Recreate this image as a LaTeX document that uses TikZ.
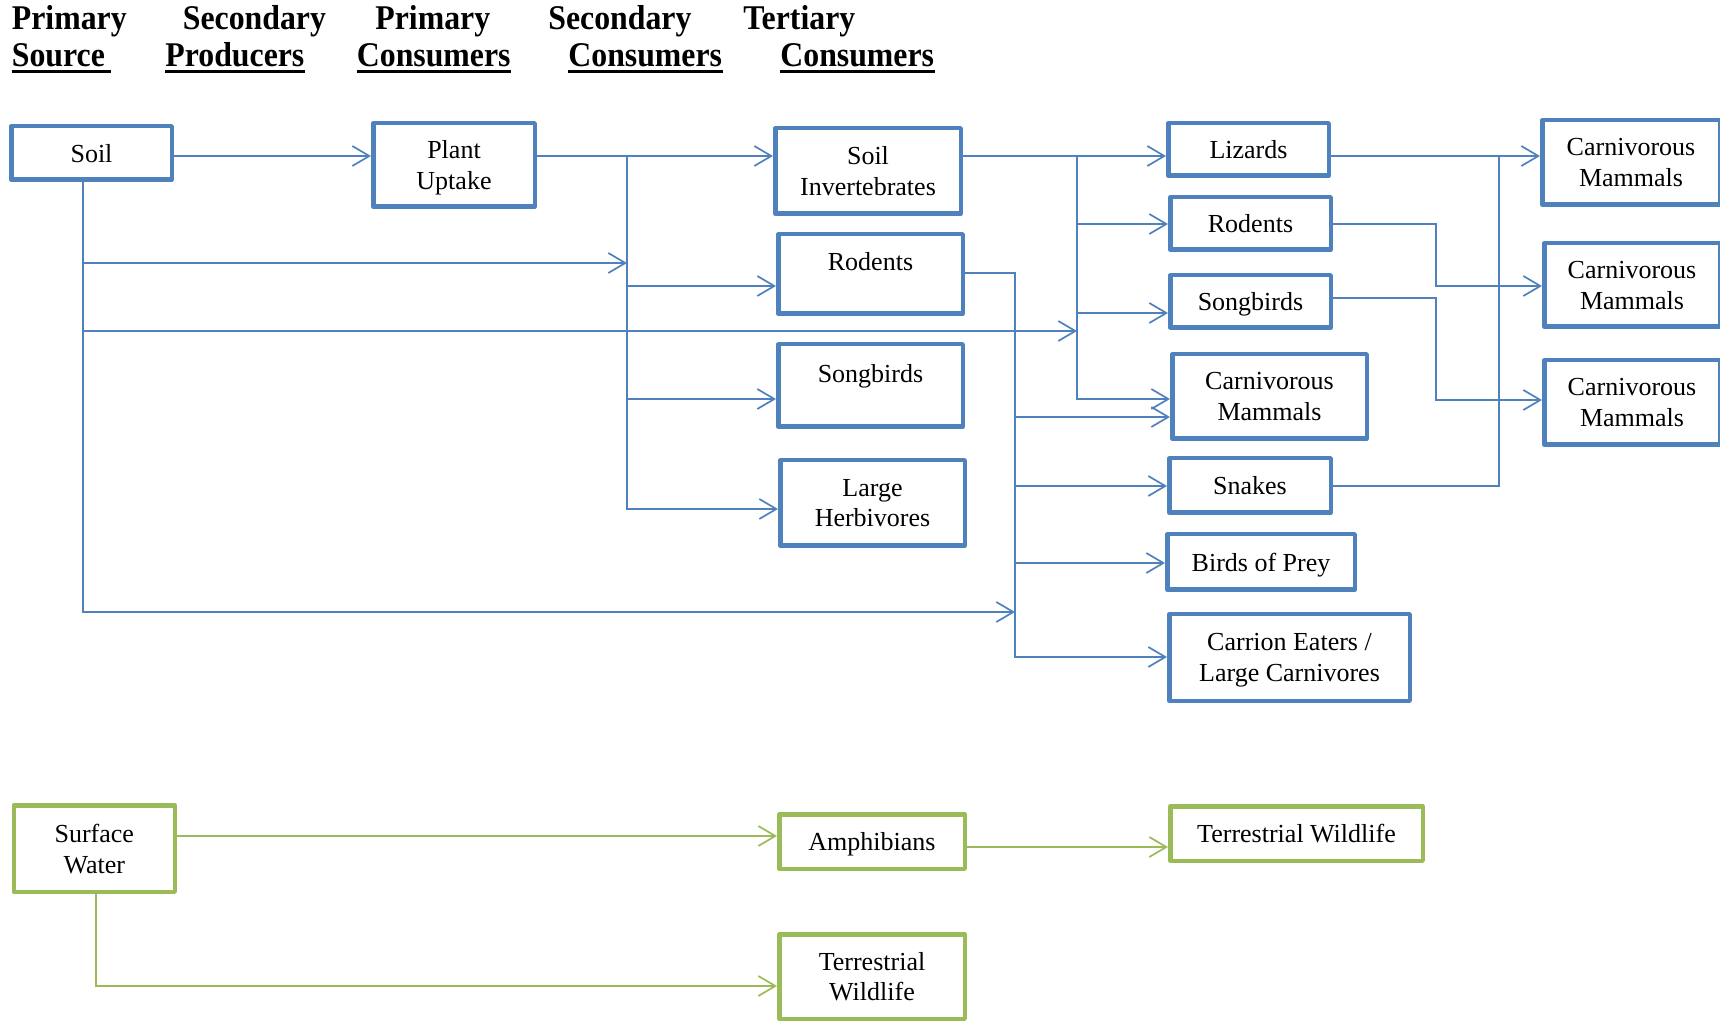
\documentclass[tikz,border=0pt]{standalone}
\usepackage{fontspec}
\setmainfont{Liberation Serif}
\usetikzlibrary{arrows.meta}
\definecolor{blueC}{HTML}{4F81BD}
\definecolor{greenC}{HTML}{9BBB59}
\newcommand{\hdtxt}[1]{\scalebox{1}[1.09]{#1}}
\begin{document}
\begin{tikzpicture}[x=0.5pt,y=-0.5pt,
  box/.style={draw=blueC, line width=2.25pt, line join=round, fill=white, inner sep=0pt, align=center,
    text depth=0pt, font=\fontsize{13}{15.4}\selectfont},
  gbox/.style={box, draw=greenC},
  arr/.style={draw=blueC, line width=0.85pt, -{Straight Barb[length=8.5pt,width=10pt]}},
  ln/.style={draw=blueC, line width=0.85pt},
  garr/.style={arr, draw=greenC},
  hd/.style={anchor=base west, inner sep=0pt, font=\fontsize{15.9}{18}\selectfont\bfseries},
  ul/.style={draw=black, line width=1.35pt}]
\useasboundingbox (0,0) rectangle (1720,1021);

% headers
\node[hd] (h1) at (11.5,30) {\hdtxt{Primary}};
\node[hd] (h2) at (182.5,30) {\hdtxt{Secondary}};
\node[hd] (h3) at (375,30) {\hdtxt{Primary}};
\node[hd] (h4) at (548,30) {\hdtxt{Secondary}};
\node[hd] (h5) at (743,30) {\hdtxt{Tertiary}};
\node[hd] (h6) at (11.5,66.5) {\hdtxt{Source}};
\node[hd] (h7) at (165,66.5) {\hdtxt{Producers}};
\node[hd] (h8) at (356.5,66.5) {\hdtxt{Consumers}};
\node[hd] (h9) at (568,66.5) {\hdtxt{Consumers}};
\node[hd] (h10) at (780,66.5) {\hdtxt{Consumers}};
\draw[ul] ([yshift=-2.4pt]h6.base west) -- ([yshift=-2.4pt,xshift=3pt]h6.base east);
\foreach \h in {h7,h8,h9,h10}
  \draw[ul] ([yshift=-2.4pt]\h.base west) -- ([yshift=-2.4pt]\h.base east);

% blue boxes
\node[box, minimum width=80.25pt, minimum height=26.75pt] (soil) at (91.5,153) {Soil};
\node[box, minimum width=80.75pt, minimum height=41.75pt] (pu) at (454,165) {Plant\\Uptake};
\node[box, minimum width=92.75pt, minimum height=42.75pt] (si) at (868,171) {Soil\\Invertebrates};
\node[box, minimum width=92.25pt, minimum height=39.75pt] (rodm) at (870.5,274) {Rodents\\[-3pt]\mbox{}};
\node[box, minimum width=92.25pt, minimum height=41.25pt] (songm) at (870.5,385.5) {Songbirds\\[-3pt]\mbox{}};
\node[box, minimum width=92.25pt, minimum height=42.75pt] (lh) at (872.5,503) {Large\\Herbivores};
\node[box, minimum width=80.25pt, minimum height=26.25pt] (liz) at (1248.5,149.5) {Lizards};
\node[box, minimum width=80.25pt, minimum height=26.25pt] (rodr) at (1250.5,223.5) {Rodents};
\node[box, minimum width=80.25pt, minimum height=26.25pt] (songr) at (1250.5,301.5) {Songbirds};
\node[box, minimum width=97.25pt, minimum height=42.25pt] (cmm) at (1269.5,396.5) {Carnivorous\\Mammals};
\node[box, minimum width=80.75pt, minimum height=27.25pt] (snk) at (1250,485.5) {Snakes};
\node[box, minimum width=93.75pt, minimum height=27.75pt] (bop) at (1261,562) {Birds of Prey};
\node[box, minimum width=120.25pt, minimum height=43.25pt] (car) at (1289.5,657.5) {Carrion Eaters /\\Large Carnivores};
\node[box, minimum width=88.75pt, minimum height=42.25pt] (cm1) at (1631,162.5) {Carnivorous\\Mammals};
\node[box, minimum width=87.75pt, minimum height=41.75pt] (cm2) at (1632,285) {Carnivorous\\Mammals};
\node[box, minimum width=87.75pt, minimum height=42.25pt] (cm3) at (1632,402.5) {Carnivorous\\Mammals};

% green boxes
\node[gbox, minimum width=80.5pt, minimum height=43.25pt] (sw) at (94.25,848.5) {Surface\\Water};
\node[gbox, minimum width=92.75pt, minimum height=27.25pt] (amph) at (872,841.5) {Amphibians};
\node[gbox, minimum width=126.25pt, minimum height=27.25pt] (tw1) at (1296.5,833.5) {Terrestrial Wildlife};
\node[gbox, minimum width=92.75pt, minimum height=42.25pt] (tw2) at (872,976.5) {Terrestrial\\Wildlife};

% junction coordinates
\coordinate (pj) at (627,156);
\coordinate (sj) at (83,178);
\coordinate (lj) at (1077,156);
\coordinate (tj) at (1015,273);
\coordinate (rj) at (1499,156);
\coordinate (qj) at (1436,286);
\coordinate (qk) at (1436,400);

% blue connectors
\draw[arr] (soil.east |- 0,156) -- (pu.west |- 0,156);
\draw[arr] (pu.east |- 0,156) -- (si.west |- 0,156);
\draw[arr] (pj) |- (lh.west |- 0,509);
\draw[arr] (pj |- 0,286) -- (rodm.west |- 0,286);
\draw[arr] (pj |- 0,399) -- (songm.west |- 0,399);
\draw[arr] (sj) |- (tj |- 0,612);
\draw[arr] (sj |- 0,263) -- (pj |- 0,263);
\draw[arr] (sj |- 0,331) -- (lj |- 0,331);
\draw[arr] (si.east |- 0,156) -- (liz.west |- 0,156);
\draw[arr] (lj) |- (cmm.west |- 0,399);
\draw[arr] (lj |- 0,224) -- (rodr.west |- 0,224);
\draw[arr] (lj |- 0,313) -- (songr.west |- 0,313);
\draw[arr] (rodm.east |- tj) -- (tj) |- (car.west |- 0,657);
\draw[arr] (tj |- 0,417) -- (cmm.west |- 0,417);
\draw[arr] (tj |- 0,486) -- (snk.west |- 0,486);
\draw[arr] (tj |- 0,563) -- (bop.west |- 0,563);
\draw[arr] (liz.east |- 0,156) -- (cm1.west |- 0,156);
\draw[ln] (snk.east |- 0,486) -| (rj);
\draw[arr] (rodr.east |- 0,224) -| (qj) -- (cm2.west |- qj);
\draw[arr] (songr.east |- 0,298) -| (qk) -- (cm3.west |- qk);

% green connectors
\draw[garr] (sw.east |- 0,836) -- (amph.west |- 0,836);
\draw[garr] (sw.south -| 96,0) |- (tw2.west |- 0,986);
\draw[garr] (amph.east |- 0,847) -- (tw1.west |- 0,847);
\end{tikzpicture}
\end{document}
